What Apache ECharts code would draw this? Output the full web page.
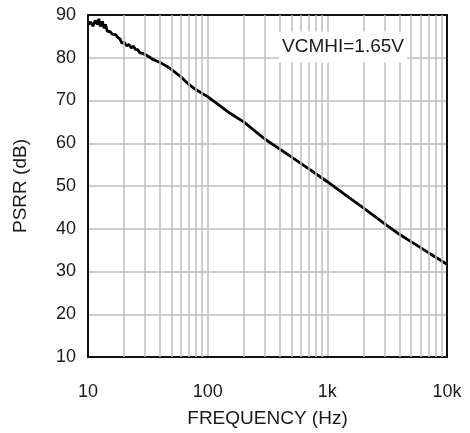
<!DOCTYPE html>
<html>
<head>
<meta charset="utf-8">
<script src="https://cdn.jsdelivr.net/npm/echarts@6/dist/echarts.min.js"></script>
<style>
  html, body { margin: 0; padding: 0; background: #fff; }
  #chart { width: 470px; height: 433px; }
</style>
</head>
<body>
<div id="chart"></div>
<script>
// Power supply rejection ratio vs frequency
const frequencyHz = [
  10, 10.5, 11, 11.5, 12, 12.3, 12.7, 13.2, 13.6, 14, 14.5, 15.3, 16, 17, 17.8,
  18.5, 19.2, 20, 21, 22, 23, 24, 25, 26, 27, 28, 30, 32, 35, 40, 45, 50, 60,
  70, 80, 100, 150, 200, 300, 500, 700, 1000, 1500, 2000, 3000, 4000, 5000,
  7000, 10000
];
const psrrDb = [
  87.7, 88.4, 87.4, 88.7, 87.8, 89.1, 87.3, 88.5, 86.9, 87.8, 86.2, 86.1, 85.5, 85.4, 84.7,
  84.4, 83.4, 83.6, 82.8, 83.1, 82.3, 82.7, 81.9, 81.9, 81.2, 81.5, 80.8, 80.3, 79.6, 78.9, 78.1, 77.2, 75.5,
  73.7, 72.5, 70.9, 67.2, 65.0, 61.0, 56.8, 54.0, 51.0, 47.4, 44.9, 41.2, 38.7, 37.0,
  34.4, 31.7
];

// Minor decade gridlines (2..9 within each decade)
const minorFreqs = [];
[10, 100, 1000].forEach(function (d) {
  for (let k = 2; k <= 9; k++) minorFreqs.push(d * k);
});

const xTickLabels = { 10: '10', 100: '100', 1000: '1k', 10000: '10k' };
const annotation = 'VCMHI=1.65V';

const gridColor = '#bdbdbd';
const textColor = '#1a1a1a';
const font = 'Liberation Sans, Arial, Helvetica, sans-serif';

const chart = echarts.init(document.getElementById('chart'), null, { renderer: 'canvas' });
chart.setOption({
  animation: false,
  backgroundColor: '#fff',
  grid: {
    left: 88, right: 23, top: 15, bottom: 75,
    show: true, borderColor: '#111', borderWidth: 2, z: 5
  },
  xAxis: {
    type: 'log', logBase: 10, min: 10, max: 10000,
    name: 'FREQUENCY (Hz)', nameLocation: 'middle', nameGap: 52,
    nameTextStyle: { fontFamily: font, fontSize: 19, color: textColor },
    axisLine: { show: false },
    axisTick: { show: false },
    axisLabel: {
      margin: 26, fontFamily: font, fontSize: 18, color: textColor,
      formatter: function (v) { return xTickLabels[Math.round(v)] || ''; }
    },
    splitLine: { show: true, lineStyle: { color: gridColor, width: 1.5 } }
  },
  yAxis: {
    type: 'value', min: 10, max: 90, interval: 10,
    name: 'PSRR (dB)', nameLocation: 'middle', nameGap: 58,
    nameTextStyle: { fontFamily: font, fontSize: 19, color: textColor },
    axisLine: { show: false },
    axisTick: { show: false },
    axisLabel: { margin: 12, fontFamily: font, fontSize: 18, color: textColor },
    splitLine: { show: true, lineStyle: { color: gridColor, width: 1.5 } }
  },
  series: [
    {
      type: 'line',
      data: [],
      silent: true,
      z: 1,
      markLine: {
        silent: true,
        symbol: ['none', 'none'],
        label: { show: false },
        lineStyle: { color: gridColor, width: 1.5, type: 'solid' },
        data: minorFreqs.map(function (f) { return { xAxis: f }; })
      }
    },
    {
      type: 'line',
      z: 3,
      showSymbol: false,
      symbol: 'none',
      smooth: false,
      lineStyle: { color: '#000', width: 2.8 },
      data: frequencyHz.map(function (f, i) { return [f, psrrDb[i]]; })
    }
  ],
  graphic: [
    {
      type: 'text',
      x: 343, y: 47, z: 10,
      style: {
        text: annotation,
        fontFamily: font, fontSize: 19, fill: textColor,
        align: 'center', verticalAlign: 'middle',
        backgroundColor: '#fff', padding: [6, 3, 6, 3]
      }
    }
  ]
});
</script>
</body>
</html>
